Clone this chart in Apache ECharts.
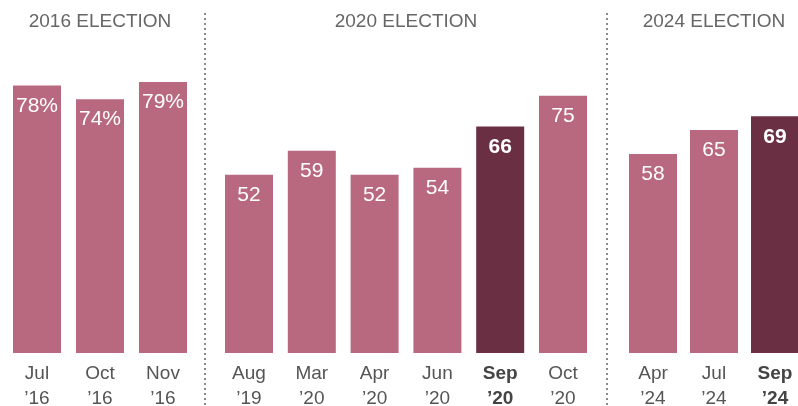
<!DOCTYPE html>
<html>
<head>
<meta charset="utf-8">
<style>
  html, body { margin: 0; padding: 0; background: #fff; }
  #chart { width: 798px; height: 406px; }
</style>
<script src="https://cdn.jsdelivr.net/npm/echarts@6/dist/echarts.min.js"></script>
</head>
<body>
<div id="chart"></div>
<script>
// Survey waves, grouped by election cycle
const groupTitles = ['2016 ELECTION', '2020 ELECTION', '2024 ELECTION'];

const months2016 = ['Jul\n’16', 'Oct\n’16', 'Nov\n’16'];
const values2016 = [78, 74, 79];

const months2020 = ['Aug\n’19', 'Mar\n’20', 'Apr\n’20', 'Jun\n’20', 'Sep\n’20', 'Oct\n’20'];
const values2020 = [52, 59, 52, 54, 66, 75];

const months2024 = ['Apr\n’24', 'Jul\n’24', 'Sep\n’24'];
const values2024 = [58, 65, 69];

// waves drawn in the darker shade
const highlighted = ['Sep\n’20', 'Sep\n’24'];

const LIGHT = '#b9697f';
const DARK = '#6b2f43';
const FONT = '"Liberation Sans", Arial, sans-serif';

// each cycle gets its own grid; bar centres sit on the category ticks
const groups = [
  { cats: months2016, vals: values2016, pct: true,  left: 37,  width: 126 },
  { cats: months2020, vals: values2020, pct: false, left: 249, width: 314 },
  { cats: months2024, vals: values2024, pct: false, left: 653, width: 122 }
];

const chart = echarts.init(document.getElementById('chart'), null, { renderer: 'canvas' });

const grid = [], xAxis = [], yAxis = [], series = [];
groups.forEach((g, i) => {
  grid.push({ left: g.left, width: g.width, top: 10, height: 343, outerBoundsMode: 'none', containLabel: false });
  xAxis.push({
    type: 'category', gridIndex: i, data: g.cats, boundaryGap: false,
    axisLine: { show: false }, axisTick: { show: false }, splitLine: { show: false },
    axisLabel: {
      margin: 8, interval: 0,
      formatter: v => highlighted.includes(v) ? '{b|' + v.split('\n').join('}\n{b|') + '}' : v,
      color: '#555', fontFamily: FONT, fontSize: 19, lineHeight: 25,
      rich: { b: { fontWeight: 'bold', color: '#444', fontFamily: FONT, fontSize: 19, lineHeight: 25 } }
    }
  });
  yAxis.push({ type: 'value', gridIndex: i, min: 0, max: 100, show: false, splitLine: { show: false } });
  series.push({
    type: 'bar', xAxisIndex: i, yAxisIndex: i, barWidth: 48,
    data: g.vals.map((v, k) => {
      const hi = highlighted.includes(g.cats[k]);
      return {
        value: v,
        itemStyle: { color: hi ? DARK : LIGHT },
        label: { fontWeight: hi ? 'bold' : 'normal' }
      };
    }),
    label: {
      show: true, position: 'insideTop', distance: 10,
      color: '#fff', fontFamily: FONT, fontSize: 21,
      formatter: p => p.value + (g.pct ? '%' : '')
    },
    silent: true, animation: false
  });
});

const titleCenters = groups.map(g => g.left + g.width / 2);

chart.setOption({
  animation: false,
  grid, xAxis, yAxis, series,
  graphic: [
    ...groupTitles.map((t, i) => ({
      type: 'text', x: titleCenters[i], y: 22,
      style: { text: t, fill: '#666', font: '19px ' + FONT, textAlign: 'center', textVerticalAlign: 'middle' }
    })),
    ...[205, 607].map(x => ({
      type: 'line',
      shape: { x1: x, y1: 13, x2: x, y2: 406 },
      style: { stroke: '#8a8a8a', lineWidth: 2, lineDash: [2, 3] }
    }))
  ]
});
</script>
</body>
</html>
